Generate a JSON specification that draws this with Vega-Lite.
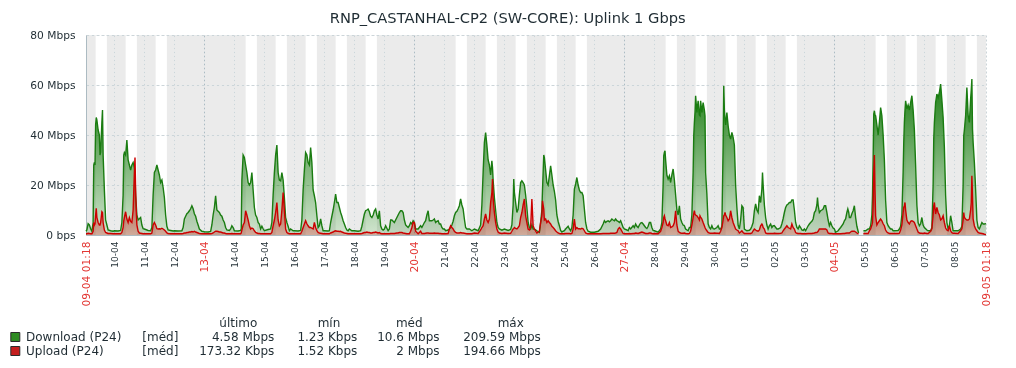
{
"$schema": "https://vega.github.io/schema/vega-lite/v6.json",
"padding": {"left": 8, "top": 11, "right": 5, "bottom": 5},
"background": "#FFFFFF",
"title": {"text": "RNP_CASTANHAL-CP2 (SW-CORE): Uplink 1 Gbps", "font": "DejaVu Sans", "fontSize": 14.67, "fontWeight": "normal", "color": "#1F2C33", "anchor": "middle", "frame": "bounds", "offset": 3, "dx": 8},
"config": {"view": {"stroke": null}, "font": "DejaVu Sans"},
"datasets": {
"nonwork": [
{"s":"2025-04-09 01:18","e":"2025-04-09 09:00"},
{"s":"2025-04-09 18:00","e":"2025-04-10 09:00"},
{"s":"2025-04-10 18:00","e":"2025-04-11 09:00"},
{"s":"2025-04-11 18:00","e":"2025-04-14 09:00"},
{"s":"2025-04-14 18:00","e":"2025-04-15 09:00"},
{"s":"2025-04-15 18:00","e":"2025-04-16 09:00"},
{"s":"2025-04-16 18:00","e":"2025-04-17 09:00"},
{"s":"2025-04-17 18:00","e":"2025-04-18 09:00"},
{"s":"2025-04-18 18:00","e":"2025-04-21 09:00"},
{"s":"2025-04-21 18:00","e":"2025-04-22 09:00"},
{"s":"2025-04-22 18:00","e":"2025-04-23 09:00"},
{"s":"2025-04-23 18:00","e":"2025-04-24 09:00"},
{"s":"2025-04-24 18:00","e":"2025-04-25 09:00"},
{"s":"2025-04-25 18:00","e":"2025-04-28 09:00"},
{"s":"2025-04-28 18:00","e":"2025-04-29 09:00"},
{"s":"2025-04-29 18:00","e":"2025-04-30 09:00"},
{"s":"2025-04-30 18:00","e":"2025-05-01 09:00"},
{"s":"2025-05-01 18:00","e":"2025-05-02 09:00"},
{"s":"2025-05-02 18:00","e":"2025-05-05 09:00"},
{"s":"2025-05-05 18:00","e":"2025-05-06 09:00"},
{"s":"2025-05-06 18:00","e":"2025-05-07 09:00"},
{"s":"2025-05-07 18:00","e":"2025-05-08 09:00"},
{"s":"2025-05-08 18:00","e":"2025-05-09 01:18"}
],
"traffic": [
{"t":"2025-04-09 01:18","d":1.5,"u":0.5},{"t":"2025-04-09 02:00","d":2,"u":0.5},{"t":"2025-04-09 03:00","d":4.5,"u":0.7},{"t":"2025-04-09 04:00","d":4,"u":0.6},{"t":"2025-04-09 05:00","d":2.5,"u":0.5},{"t":"2025-04-09 06:00","d":1.5,"u":0.5},{"t":"2025-04-09 07:00","d":5,"u":1.5},{"t":"2025-04-09 07:30","d":28,"u":5},{"t":"2025-04-09 08:00","d":29,"u":4},{"t":"2025-04-09 08:30","d":28,"u":4.5},{"t":"2025-04-09 09:00","d":44,"u":8},{"t":"2025-04-09 09:30","d":47,"u":10.7},{"t":"2025-04-09 10:00","d":46,"u":7},{"t":"2025-04-09 11:00","d":42,"u":5},{"t":"2025-04-09 12:00","d":40,"u":4},{"t":"2025-04-09 12:30","d":32,"u":4},{"t":"2025-04-09 13:00","d":33,"u":5},{"t":"2025-04-09 14:00","d":45,"u":9.3},{"t":"2025-04-09 14:30","d":50,"u":9},{"t":"2025-04-09 15:00","d":32,"u":5},{"t":"2025-04-09 16:00","d":18,"u":2},{"t":"2025-04-09 17:00","d":6,"u":1},{"t":"2025-04-09 18:00","d":4,"u":0.8},{"t":"2025-04-09 19:00","d":2,"u":0.6},{"t":"2025-04-09 21:00","d":1.7,"u":0.6},{"t":"2025-04-09 23:00","d":1.5,"u":0.5},
{"t":"2025-04-10 00:00","d":1.7,"u":0.5},{"t":"2025-04-10 03:00","d":1.6,"u":0.5},{"t":"2025-04-10 05:00","d":1.8,"u":0.5},{"t":"2025-04-10 06:00","d":5,"u":1},{"t":"2025-04-10 07:00","d":16,"u":3},{"t":"2025-04-10 07:30","d":32,"u":5.7},{"t":"2025-04-10 08:00","d":33,"u":7},{"t":"2025-04-10 09:00","d":32,"u":9.3},{"t":"2025-04-10 10:00","d":38,"u":6.4},{"t":"2025-04-10 11:00","d":30,"u":5},{"t":"2025-04-10 12:00","d":28,"u":7},{"t":"2025-04-10 13:00","d":26,"u":5.5},{"t":"2025-04-10 14:00","d":28,"u":5},{"t":"2025-04-10 15:00","d":29,"u":10},{"t":"2025-04-10 16:00","d":27,"u":25},{"t":"2025-04-10 16:30","d":25,"u":31},{"t":"2025-04-10 17:00","d":16,"u":18},{"t":"2025-04-10 17:30","d":12,"u":10},{"t":"2025-04-10 18:00","d":8,"u":4},{"t":"2025-04-10 19:00","d":6,"u":1.5},{"t":"2025-04-10 20:00","d":6.5,"u":0.8},{"t":"2025-04-10 21:00","d":7,"u":0.7},{"t":"2025-04-10 22:00","d":4,"u":0.6},{"t":"2025-04-10 23:00","d":2.5,"u":0.5},
{"t":"2025-04-11 00:00","d":2.4,"u":0.5},{"t":"2025-04-11 03:00","d":1.8,"u":0.5},{"t":"2025-04-11 05:00","d":1.7,"u":0.5},{"t":"2025-04-11 06:00","d":3,"u":0.8},{"t":"2025-04-11 07:00","d":16,"u":4},{"t":"2025-04-11 08:00","d":25,"u":5},{"t":"2025-04-11 09:00","d":26,"u":4},{"t":"2025-04-11 10:00","d":28,"u":2.5},{"t":"2025-04-11 11:00","d":26,"u":2.4},{"t":"2025-04-11 12:00","d":24,"u":2.5},{"t":"2025-04-11 13:00","d":21,"u":2.4},{"t":"2025-04-11 14:00","d":22,"u":2.7},{"t":"2025-04-11 15:00","d":19,"u":2.4},{"t":"2025-04-11 16:00","d":15,"u":2},{"t":"2025-04-11 17:00","d":8,"u":1.5},{"t":"2025-04-11 18:00","d":3.5,"u":0.8},{"t":"2025-04-11 19:00","d":2,"u":0.6},{"t":"2025-04-11 21:00","d":1.8,"u":0.5},{"t":"2025-04-11 23:00","d":1.6,"u":0.5},
{"t":"2025-04-12 00:00","d":1.7,"u":0.5},{"t":"2025-04-12 03:00","d":1.6,"u":0.5},{"t":"2025-04-12 06:00","d":1.7,"u":0.5},{"t":"2025-04-12 07:00","d":3,"u":0.6},{"t":"2025-04-12 08:00","d":6.4,"u":0.8},{"t":"2025-04-12 09:00","d":7.5,"u":0.8},{"t":"2025-04-12 10:00","d":8.5,"u":1},{"t":"2025-04-12 11:00","d":9,"u":1},{"t":"2025-04-12 12:00","d":9.7,"u":1.2},{"t":"2025-04-12 13:00","d":10.5,"u":1.2},{"t":"2025-04-12 14:00","d":11.7,"u":1.4},{"t":"2025-04-12 15:00","d":10.5,"u":1.2},{"t":"2025-04-12 16:00","d":8.5,"u":1.5},{"t":"2025-04-12 17:00","d":7.5,"u":1.2},{"t":"2025-04-12 18:00","d":5.5,"u":1},{"t":"2025-04-12 19:00","d":4,"u":0.8},{"t":"2025-04-12 20:00","d":2.4,"u":0.6},{"t":"2025-04-12 22:00","d":1.5,"u":0.5},
{"t":"2025-04-13 00:00","d":1.3,"u":0.5},{"t":"2025-04-13 03:00","d":1.2,"u":0.5},{"t":"2025-04-13 05:00","d":1.4,"u":0.5},{"t":"2025-04-13 06:00","d":4,"u":0.6},{"t":"2025-04-13 07:00","d":8,"u":0.8},{"t":"2025-04-13 08:00","d":11,"u":1.2},{"t":"2025-04-13 09:00","d":15.7,"u":1.5},{"t":"2025-04-13 10:00","d":10,"u":1.5},{"t":"2025-04-13 11:00","d":9.5,"u":1.4},{"t":"2025-04-13 12:00","d":9,"u":1.2},{"t":"2025-04-13 13:00","d":8,"u":1.2},{"t":"2025-04-13 14:00","d":7.5,"u":1},{"t":"2025-04-13 15:00","d":6,"u":0.8},{"t":"2025-04-13 16:00","d":5,"u":0.8},{"t":"2025-04-13 17:00","d":3,"u":0.6},{"t":"2025-04-13 18:00","d":2,"u":0.5},{"t":"2025-04-13 20:00","d":1.8,"u":0.5},{"t":"2025-04-13 21:00","d":2.4,"u":0.5},{"t":"2025-04-13 22:00","d":3.7,"u":0.6},{"t":"2025-04-13 23:00","d":3,"u":0.5},
{"t":"2025-04-14 00:00","d":1.7,"u":0.5},{"t":"2025-04-14 03:00","d":1.6,"u":0.5},{"t":"2025-04-14 05:00","d":1.8,"u":0.5},{"t":"2025-04-14 05:30","d":2.5,"u":0.8},{"t":"2025-04-14 06:00","d":22,"u":2},{"t":"2025-04-14 07:00","d":32,"u":4},{"t":"2025-04-14 08:00","d":31,"u":5},{"t":"2025-04-14 09:00","d":28,"u":9.7},{"t":"2025-04-14 10:00","d":25,"u":8},{"t":"2025-04-14 11:00","d":21,"u":6},{"t":"2025-04-14 12:00","d":20,"u":3.7},{"t":"2025-04-14 13:00","d":21,"u":2.4},{"t":"2025-04-14 14:00","d":25,"u":2.8},{"t":"2025-04-14 15:00","d":18,"u":2.5},{"t":"2025-04-14 16:00","d":11,"u":1.7},{"t":"2025-04-14 17:00","d":8,"u":1},{"t":"2025-04-14 18:00","d":7,"u":0.8},{"t":"2025-04-14 19:00","d":5,"u":0.6},{"t":"2025-04-14 20:00","d":4.4,"u":0.6},{"t":"2025-04-14 21:00","d":2.4,"u":0.5},{"t":"2025-04-14 22:00","d":3.5,"u":0.5},{"t":"2025-04-14 23:00","d":2.5,"u":0.5},
{"t":"2025-04-15 00:00","d":1.7,"u":0.5},{"t":"2025-04-15 03:00","d":2.2,"u":0.5},{"t":"2025-04-15 05:00","d":2.4,"u":0.5},{"t":"2025-04-15 06:00","d":5,"u":1},{"t":"2025-04-15 07:00","d":16,"u":3.7},{"t":"2025-04-15 08:00","d":25,"u":6},{"t":"2025-04-15 09:00","d":32,"u":9},{"t":"2025-04-15 10:00","d":36,"u":13},{"t":"2025-04-15 11:00","d":25,"u":6},{"t":"2025-04-15 12:00","d":22,"u":3.7},{"t":"2025-04-15 13:00","d":21.7,"u":4.4},{"t":"2025-04-15 14:00","d":25,"u":10},{"t":"2025-04-15 15:00","d":22,"u":17},{"t":"2025-04-15 16:00","d":15,"u":10},{"t":"2025-04-15 17:00","d":7,"u":2.4},{"t":"2025-04-15 18:00","d":5,"u":1},{"t":"2025-04-15 19:00","d":3.5,"u":0.7},{"t":"2025-04-15 20:00","d":1.7,"u":0.5},{"t":"2025-04-15 21:00","d":2.4,"u":0.5},{"t":"2025-04-15 23:00","d":1.7,"u":0.5},
{"t":"2025-04-16 00:00","d":1.7,"u":0.5},{"t":"2025-04-16 03:00","d":1.6,"u":0.5},{"t":"2025-04-16 05:00","d":1.8,"u":0.5},{"t":"2025-04-16 06:00","d":6,"u":1.5},{"t":"2025-04-16 07:00","d":18,"u":3},{"t":"2025-04-16 08:00","d":26,"u":4.4},{"t":"2025-04-16 09:00","d":33,"u":5.7},{"t":"2025-04-16 10:00","d":32,"u":4.5},{"t":"2025-04-16 11:00","d":29,"u":3.7},{"t":"2025-04-16 12:00","d":28,"u":3},{"t":"2025-04-16 13:00","d":35,"u":3},{"t":"2025-04-16 14:00","d":29,"u":2.7},{"t":"2025-04-16 15:00","d":18,"u":2.4},{"t":"2025-04-16 16:00","d":15.7,"u":5},{"t":"2025-04-16 17:00","d":13,"u":3},{"t":"2025-04-16 18:00","d":7.7,"u":1.7},{"t":"2025-04-16 19:00","d":3,"u":1},{"t":"2025-04-16 20:00","d":3.7,"u":0.8},{"t":"2025-04-16 21:00","d":6.4,"u":0.7},{"t":"2025-04-16 22:00","d":3.7,"u":0.6},{"t":"2025-04-16 23:00","d":1.7,"u":0.5},
{"t":"2025-04-17 00:00","d":1.7,"u":0.5},{"t":"2025-04-17 03:00","d":1.6,"u":0.5},{"t":"2025-04-17 04:00","d":1.7,"u":0.5},{"t":"2025-04-17 05:00","d":5,"u":0.8},{"t":"2025-04-17 06:00","d":7.5,"u":1},{"t":"2025-04-17 07:00","d":10,"u":1.2},{"t":"2025-04-17 08:00","d":13,"u":1.5},{"t":"2025-04-17 09:00","d":16.4,"u":1.7},{"t":"2025-04-17 10:00","d":13,"u":1.5},{"t":"2025-04-17 11:00","d":13,"u":1.5},{"t":"2025-04-17 12:00","d":11,"u":1.4},{"t":"2025-04-17 13:00","d":9,"u":1.5},{"t":"2025-04-17 14:00","d":7.5,"u":1.2},{"t":"2025-04-17 15:00","d":5.7,"u":1},{"t":"2025-04-17 16:00","d":4.4,"u":0.8},{"t":"2025-04-17 17:00","d":3,"u":0.7},{"t":"2025-04-17 18:00","d":2,"u":0.6},{"t":"2025-04-17 19:00","d":1.7,"u":0.5},{"t":"2025-04-17 20:00","d":2.4,"u":0.5},{"t":"2025-04-17 22:00","d":1.7,"u":0.5},
{"t":"2025-04-18 00:00","d":1.7,"u":0.5},{"t":"2025-04-18 03:00","d":1.5,"u":0.5},{"t":"2025-04-18 05:00","d":1.7,"u":0.5},{"t":"2025-04-18 06:00","d":3.5,"u":0.6},{"t":"2025-04-18 07:00","d":6,"u":0.8},{"t":"2025-04-18 08:00","d":8.4,"u":1},{"t":"2025-04-18 09:00","d":9.7,"u":1},{"t":"2025-04-18 10:00","d":10,"u":1.2},{"t":"2025-04-18 11:00","d":10.4,"u":1},{"t":"2025-04-18 12:00","d":9.3,"u":1},{"t":"2025-04-18 13:00","d":7.5,"u":0.8},{"t":"2025-04-18 14:00","d":7,"u":0.8},{"t":"2025-04-18 15:00","d":8,"u":1},{"t":"2025-04-18 16:00","d":9.7,"u":1},{"t":"2025-04-18 17:00","d":10.4,"u":1.2},{"t":"2025-04-18 18:00","d":8,"u":1},{"t":"2025-04-18 19:00","d":6.4,"u":0.8},{"t":"2025-04-18 20:00","d":9.7,"u":1},{"t":"2025-04-18 21:00","d":3.7,"u":0.6},{"t":"2025-04-18 22:00","d":2.4,"u":0.5},{"t":"2025-04-18 23:00","d":2,"u":0.5},
{"t":"2025-04-19 00:00","d":2.4,"u":0.5},{"t":"2025-04-19 01:00","d":3.7,"u":0.5},{"t":"2025-04-19 03:00","d":1.7,"u":0.5},{"t":"2025-04-19 04:00","d":2.4,"u":0.5},{"t":"2025-04-19 05:00","d":6,"u":0.6},{"t":"2025-04-19 06:00","d":6,"u":0.6},{"t":"2025-04-19 07:00","d":5.5,"u":0.6},{"t":"2025-04-19 08:00","d":5,"u":0.6},{"t":"2025-04-19 09:00","d":6,"u":0.7},{"t":"2025-04-19 10:00","d":7,"u":0.8},{"t":"2025-04-19 11:00","d":8,"u":0.8},{"t":"2025-04-19 12:00","d":9,"u":1},{"t":"2025-04-19 13:00","d":9.7,"u":1},{"t":"2025-04-19 14:00","d":9.7,"u":1},{"t":"2025-04-19 15:00","d":9,"u":0.8},{"t":"2025-04-19 16:00","d":6,"u":0.7},{"t":"2025-04-19 17:00","d":4,"u":0.6},{"t":"2025-04-19 18:00","d":3.5,"u":0.5},{"t":"2025-04-19 19:00","d":3,"u":0.5},{"t":"2025-04-19 20:00","d":3.7,"u":0.5},{"t":"2025-04-19 21:00","d":5,"u":1.5},{"t":"2025-04-19 22:00","d":4.4,"u":3},{"t":"2025-04-19 23:00","d":5.7,"u":5},
{"t":"2025-04-20 00:00","d":5,"u":5},{"t":"2025-04-20 01:00","d":2.4,"u":1.5},{"t":"2025-04-20 03:00","d":2.4,"u":0.5},{"t":"2025-04-20 05:00","d":3.7,"u":1.5},{"t":"2025-04-20 06:00","d":3,"u":0.6},{"t":"2025-04-20 08:00","d":5,"u":0.6},{"t":"2025-04-20 09:00","d":5.7,"u":0.7},{"t":"2025-04-20 10:00","d":8,"u":0.8},{"t":"2025-04-20 11:00","d":9.7,"u":0.8},{"t":"2025-04-20 12:00","d":5.7,"u":0.7},{"t":"2025-04-20 13:00","d":5.7,"u":0.7},{"t":"2025-04-20 14:00","d":5.7,"u":0.7},{"t":"2025-04-20 15:00","d":6,"u":0.7},{"t":"2025-04-20 16:00","d":6.4,"u":0.8},{"t":"2025-04-20 17:00","d":5,"u":0.7},{"t":"2025-04-20 18:00","d":5.5,"u":0.7},{"t":"2025-04-20 19:00","d":5.7,"u":0.7},{"t":"2025-04-20 20:00","d":4.4,"u":0.6},{"t":"2025-04-20 21:00","d":4.4,"u":0.6},{"t":"2025-04-20 22:00","d":3,"u":0.5},{"t":"2025-04-20 23:00","d":2.4,"u":0.5},
{"t":"2025-04-21 00:00","d":2.4,"u":0.5},{"t":"2025-04-21 01:00","d":1.7,"u":0.5},{"t":"2025-04-21 03:00","d":2,"u":0.6},{"t":"2025-04-21 04:00","d":2.4,"u":2.4},{"t":"2025-04-21 05:00","d":3,"u":3.7},{"t":"2025-04-21 06:00","d":4,"u":3},{"t":"2025-04-21 07:00","d":5.5,"u":2.4},{"t":"2025-04-21 08:00","d":7.7,"u":1.5},{"t":"2025-04-21 09:00","d":9,"u":1},{"t":"2025-04-21 10:00","d":9.5,"u":0.8},{"t":"2025-04-21 11:00","d":10.5,"u":0.8},{"t":"2025-04-21 12:00","d":11.7,"u":0.8},{"t":"2025-04-21 13:00","d":14.4,"u":1},{"t":"2025-04-21 14:00","d":12,"u":0.8},{"t":"2025-04-21 15:00","d":10.4,"u":0.8},{"t":"2025-04-21 16:00","d":6.4,"u":0.7},{"t":"2025-04-21 17:00","d":3,"u":0.6},{"t":"2025-04-21 18:00","d":2.4,"u":0.5},{"t":"2025-04-21 20:00","d":2.4,"u":0.5},{"t":"2025-04-21 22:00","d":1.7,"u":0.5},
{"t":"2025-04-22 00:00","d":2.4,"u":0.8},{"t":"2025-04-22 03:00","d":1.7,"u":0.6},{"t":"2025-04-22 05:00","d":4,"u":2},{"t":"2025-04-22 06:00","d":12,"u":3},{"t":"2025-04-22 07:00","d":25,"u":3.7},{"t":"2025-04-22 08:00","d":37,"u":6.4},{"t":"2025-04-22 09:00","d":41,"u":8.4},{"t":"2025-04-22 10:00","d":36,"u":6},{"t":"2025-04-22 11:00","d":30,"u":5},{"t":"2025-04-22 12:00","d":28,"u":6.4},{"t":"2025-04-22 13:00","d":24,"u":13},{"t":"2025-04-22 14:00","d":29.7,"u":17},{"t":"2025-04-22 14:30","d":27,"u":22.4},{"t":"2025-04-22 15:00","d":22,"u":15},{"t":"2025-04-22 16:00","d":15,"u":9},{"t":"2025-04-22 17:00","d":10,"u":5},{"t":"2025-04-22 18:00","d":5,"u":2.4},{"t":"2025-04-22 19:00","d":3,"u":1.2},{"t":"2025-04-22 20:00","d":2.4,"u":0.8},{"t":"2025-04-22 22:00","d":1.9,"u":0.6},
{"t":"2025-04-23 00:00","d":2.4,"u":0.8},{"t":"2025-04-23 03:00","d":1.8,"u":0.6},{"t":"2025-04-23 05:00","d":2.2,"u":0.7},{"t":"2025-04-23 06:00","d":4,"u":1.5},{"t":"2025-04-23 07:00","d":12,"u":2.4},{"t":"2025-04-23 07:30","d":22.4,"u":2.6},{"t":"2025-04-23 08:00","d":17,"u":3},{"t":"2025-04-23 09:00","d":13,"u":2.6},{"t":"2025-04-23 10:00","d":9,"u":2.4},{"t":"2025-04-23 11:00","d":10.4,"u":3},{"t":"2025-04-23 12:00","d":16,"u":3.7},{"t":"2025-04-23 13:00","d":21,"u":7},{"t":"2025-04-23 14:00","d":21.7,"u":9},{"t":"2025-04-23 15:00","d":21,"u":12},{"t":"2025-04-23 16:00","d":20,"u":14.4},{"t":"2025-04-23 17:00","d":16,"u":7.7},{"t":"2025-04-23 18:00","d":11,"u":5},{"t":"2025-04-23 19:00","d":5,"u":2.4},{"t":"2025-04-23 20:00","d":3,"u":2},{"t":"2025-04-23 21:00","d":2.4,"u":3},{"t":"2025-04-23 22:00","d":4,"u":14.4},{"t":"2025-04-23 23:00","d":2.4,"u":3.7},
{"t":"2025-04-24 00:00","d":2.4,"u":2.4},{"t":"2025-04-24 02:00","d":1.7,"u":0.8},{"t":"2025-04-24 04:00","d":1.1,"u":1.5},{"t":"2025-04-24 05:00","d":5,"u":5},{"t":"2025-04-24 06:00","d":10,"u":7.7},{"t":"2025-04-24 06:30","d":18,"u":13.7},{"t":"2025-04-24 07:00","d":25,"u":12},{"t":"2025-04-24 07:30","d":32,"u":10.4},{"t":"2025-04-24 08:00","d":31,"u":6},{"t":"2025-04-24 09:00","d":26,"u":6.4},{"t":"2025-04-24 10:00","d":21,"u":5},{"t":"2025-04-24 11:00","d":20,"u":5.7},{"t":"2025-04-24 12:00","d":23.7,"u":5},{"t":"2025-04-24 13:00","d":27.7,"u":4.4},{"t":"2025-04-24 14:00","d":24,"u":3.5},{"t":"2025-04-24 15:00","d":20,"u":3},{"t":"2025-04-24 16:00","d":17.5,"u":2.4},{"t":"2025-04-24 17:00","d":14,"u":1.7},{"t":"2025-04-24 18:00","d":8,"u":1.2},{"t":"2025-04-24 19:00","d":5.5,"u":0.8},{"t":"2025-04-24 20:00","d":3.7,"u":0.6},{"t":"2025-04-24 21:00","d":1.8,"u":0.5},{"t":"2025-04-24 22:00","d":1.2,"u":0.5},{"t":"2025-04-24 23:00","d":1.5,"u":0.5},
{"t":"2025-04-25 00:00","d":1.7,"u":0.5},{"t":"2025-04-25 01:00","d":2.4,"u":0.6},{"t":"2025-04-25 03:00","d":3.5,"u":0.6},{"t":"2025-04-25 04:00","d":2.4,"u":0.6},{"t":"2025-04-25 05:00","d":1.7,"u":0.5},{"t":"2025-04-25 06:00","d":3,"u":0.6},{"t":"2025-04-25 07:00","d":8,"u":2.4},{"t":"2025-04-25 08:00","d":18.4,"u":6.4},{"t":"2025-04-25 09:00","d":20.4,"u":2.4},{"t":"2025-04-25 10:00","d":23,"u":3},{"t":"2025-04-25 11:00","d":20,"u":2.5},{"t":"2025-04-25 12:00","d":18,"u":2.5},{"t":"2025-04-25 13:00","d":17,"u":2.4},{"t":"2025-04-25 14:00","d":17,"u":2.7},{"t":"2025-04-25 15:00","d":15.7,"u":2.5},{"t":"2025-04-25 16:00","d":10.4,"u":1.7},{"t":"2025-04-25 17:00","d":5,"u":0.8},{"t":"2025-04-25 18:00","d":2.5,"u":0.6},{"t":"2025-04-25 19:00","d":1.5,"u":0.5},{"t":"2025-04-25 21:00","d":1.1,"u":0.5},{"t":"2025-04-25 23:00","d":1.1,"u":0.5},
{"t":"2025-04-26 00:00","d":1.1,"u":0.5},{"t":"2025-04-26 03:00","d":1.5,"u":0.5},{"t":"2025-04-26 05:00","d":2.4,"u":0.5},{"t":"2025-04-26 07:00","d":4.4,"u":0.6},{"t":"2025-04-26 08:00","d":5.7,"u":0.6},{"t":"2025-04-26 09:00","d":5,"u":0.6},{"t":"2025-04-26 10:00","d":5.5,"u":0.6},{"t":"2025-04-26 11:00","d":5.7,"u":0.6},{"t":"2025-04-26 12:00","d":5.3,"u":0.6},{"t":"2025-04-26 13:00","d":5.7,"u":0.7},{"t":"2025-04-26 14:00","d":6.4,"u":0.7},{"t":"2025-04-26 15:00","d":6,"u":0.7},{"t":"2025-04-26 16:00","d":5.7,"u":0.7},{"t":"2025-04-26 17:00","d":6.4,"u":0.8},{"t":"2025-04-26 18:00","d":5.7,"u":1},{"t":"2025-04-26 19:00","d":5.5,"u":2.4},{"t":"2025-04-26 20:00","d":5,"u":3},{"t":"2025-04-26 21:00","d":5.7,"u":2.4},{"t":"2025-04-26 22:00","d":4.4,"u":1.5},{"t":"2025-04-26 23:00","d":3,"u":0.6},
{"t":"2025-04-27 00:00","d":2.4,"u":0.5},{"t":"2025-04-27 02:00","d":2,"u":0.5},{"t":"2025-04-27 03:00","d":1.7,"u":0.5},{"t":"2025-04-27 04:00","d":3,"u":0.6},{"t":"2025-04-27 05:00","d":2.4,"u":0.5},{"t":"2025-04-27 07:00","d":3.7,"u":0.6},{"t":"2025-04-27 08:00","d":3,"u":0.6},{"t":"2025-04-27 09:00","d":4.4,"u":0.8},{"t":"2025-04-27 10:00","d":3.5,"u":0.7},{"t":"2025-04-27 11:00","d":3,"u":0.6},{"t":"2025-04-27 12:00","d":4,"u":0.8},{"t":"2025-04-27 13:00","d":4.8,"u":1},{"t":"2025-04-27 14:00","d":5,"u":1.2},{"t":"2025-04-27 15:00","d":4.4,"u":1},{"t":"2025-04-27 16:00","d":3.7,"u":0.8},{"t":"2025-04-27 17:00","d":3,"u":0.6},{"t":"2025-04-27 18:00","d":2.6,"u":0.6},{"t":"2025-04-27 19:00","d":3.5,"u":0.6},{"t":"2025-04-27 20:00","d":5,"u":0.8},{"t":"2025-04-27 21:00","d":5,"u":0.8},{"t":"2025-04-27 22:00","d":3,"u":0.6},{"t":"2025-04-27 23:00","d":1.8,"u":0.5},
{"t":"2025-04-28 00:00","d":1.7,"u":0.6},{"t":"2025-04-28 03:00","d":1.1,"u":0.5},{"t":"2025-04-28 05:00","d":2.4,"u":1.5},{"t":"2025-04-28 06:00","d":5,"u":3},{"t":"2025-04-28 07:00","d":20,"u":5},{"t":"2025-04-28 07:30","d":31.7,"u":7},{"t":"2025-04-28 08:00","d":33,"u":7.7},{"t":"2025-04-28 08:30","d":33.7,"u":6.5},{"t":"2025-04-28 09:00","d":30,"u":5.7},{"t":"2025-04-28 10:00","d":24,"u":4},{"t":"2025-04-28 11:00","d":22.4,"u":3.7},{"t":"2025-04-28 12:00","d":23.7,"u":5},{"t":"2025-04-28 13:00","d":21,"u":3},{"t":"2025-04-28 14:00","d":24,"u":3.2},{"t":"2025-04-28 15:00","d":26.4,"u":3.7},{"t":"2025-04-28 16:00","d":22,"u":5},{"t":"2025-04-28 17:00","d":16,"u":9.7},{"t":"2025-04-28 18:00","d":10,"u":4},{"t":"2025-04-28 19:00","d":8,"u":1.5},{"t":"2025-04-28 20:00","d":11.7,"u":1},{"t":"2025-04-28 21:00","d":6.4,"u":0.8},{"t":"2025-04-28 22:00","d":5,"u":0.7},{"t":"2025-04-28 23:00","d":4,"u":0.7},
{"t":"2025-04-29 00:00","d":3.7,"u":0.8},{"t":"2025-04-29 01:00","d":2.4,"u":0.6},{"t":"2025-04-29 03:00","d":1.7,"u":0.5},{"t":"2025-04-29 04:00","d":3,"u":0.6},{"t":"2025-04-29 05:00","d":3,"u":1.5},{"t":"2025-04-29 06:00","d":8,"u":4},{"t":"2025-04-29 07:00","d":25,"u":7},{"t":"2025-04-29 07:30","d":39.7,"u":8.5},{"t":"2025-04-29 08:00","d":45,"u":9.7},{"t":"2025-04-29 08:30","d":49,"u":8.4},{"t":"2025-04-29 09:00","d":55.7,"u":8},{"t":"2025-04-29 10:00","d":49,"u":7.7},{"t":"2025-04-29 11:00","d":53.7,"u":7},{"t":"2025-04-29 12:00","d":48,"u":6},{"t":"2025-04-29 12:30","d":47.7,"u":7.7},{"t":"2025-04-29 13:00","d":53.7,"u":7.2},{"t":"2025-04-29 14:00","d":49,"u":6.4},{"t":"2025-04-29 15:00","d":53,"u":5},{"t":"2025-04-29 16:00","d":50,"u":3.7},{"t":"2025-04-29 16:30","d":47.7,"u":3},{"t":"2025-04-29 17:00","d":25,"u":2.4},{"t":"2025-04-29 18:00","d":16.4,"u":1.7},{"t":"2025-04-29 19:00","d":4.5,"u":1},{"t":"2025-04-29 20:00","d":3,"u":0.8},{"t":"2025-04-29 21:00","d":2.4,"u":0.7},{"t":"2025-04-29 22:00","d":3.7,"u":0.7},{"t":"2025-04-29 23:00","d":2.5,"u":0.7},
{"t":"2025-04-30 00:00","d":2.4,"u":0.8},{"t":"2025-04-30 02:00","d":3,"u":0.7},{"t":"2025-04-30 03:00","d":3.7,"u":0.7},{"t":"2025-04-30 04:00","d":2.4,"u":0.6},{"t":"2025-04-30 05:00","d":2.4,"u":1.5},{"t":"2025-04-30 06:00","d":3.5,"u":3},{"t":"2025-04-30 07:00","d":35.7,"u":6},{"t":"2025-04-30 07:30","d":59.7,"u":7.7},{"t":"2025-04-30 08:00","d":50,"u":8},{"t":"2025-04-30 08:30","d":46.4,"u":9},{"t":"2025-04-30 09:00","d":44,"u":8},{"t":"2025-04-30 10:00","d":49,"u":7},{"t":"2025-04-30 11:00","d":43.7,"u":5.7},{"t":"2025-04-30 12:00","d":40,"u":6.4},{"t":"2025-04-30 13:00","d":38.4,"u":9.7},{"t":"2025-04-30 14:00","d":41,"u":7},{"t":"2025-04-30 15:00","d":39,"u":5},{"t":"2025-04-30 16:00","d":36,"u":3.7},{"t":"2025-04-30 17:00","d":20,"u":2.4},{"t":"2025-04-30 18:00","d":11,"u":2},{"t":"2025-04-30 19:00","d":4,"u":1.7},{"t":"2025-04-30 20:00","d":2.4,"u":0.8},{"t":"2025-04-30 21:00","d":6,"u":1.2},{"t":"2025-04-30 22:00","d":11.7,"u":1.7},{"t":"2025-04-30 23:00","d":11,"u":1},
{"t":"2025-05-01 00:00","d":2.4,"u":0.6},{"t":"2025-05-01 02:00","d":1.7,"u":0.6},{"t":"2025-05-01 04:00","d":1.9,"u":0.6},{"t":"2025-05-01 05:00","d":2.4,"u":0.6},{"t":"2025-05-01 06:00","d":3.5,"u":0.8},{"t":"2025-05-01 07:00","d":5,"u":1.7},{"t":"2025-05-01 08:00","d":9.7,"u":2.4},{"t":"2025-05-01 09:00","d":12.4,"u":2},{"t":"2025-05-01 10:00","d":10,"u":1.7},{"t":"2025-05-01 11:00","d":9,"u":1.5},{"t":"2025-05-01 12:00","d":15.7,"u":2},{"t":"2025-05-01 13:00","d":13,"u":3.7},{"t":"2025-05-01 14:00","d":18.4,"u":4.4},{"t":"2025-05-01 14:30","d":25,"u":4},{"t":"2025-05-01 15:00","d":20,"u":3},{"t":"2025-05-01 16:00","d":12,"u":2.4},{"t":"2025-05-01 17:00","d":7,"u":0.8},{"t":"2025-05-01 18:00","d":4,"u":0.6},{"t":"2025-05-01 19:00","d":2.4,"u":0.6},{"t":"2025-05-01 20:00","d":3.7,"u":0.6},{"t":"2025-05-01 21:00","d":4.4,"u":0.6},{"t":"2025-05-01 22:00","d":3,"u":0.6},{"t":"2025-05-01 23:00","d":3.7,"u":0.6},
{"t":"2025-05-02 00:00","d":3.7,"u":0.7},{"t":"2025-05-02 02:00","d":2.4,"u":0.6},{"t":"2025-05-02 03:00","d":2.4,"u":0.6},{"t":"2025-05-02 05:00","d":3,"u":0.7},{"t":"2025-05-02 06:00","d":4.5,"u":0.8},{"t":"2025-05-02 07:00","d":6.5,"u":1.7},{"t":"2025-05-02 08:00","d":9,"u":2.4},{"t":"2025-05-02 09:00","d":11,"u":3},{"t":"2025-05-02 10:00","d":12,"u":3.7},{"t":"2025-05-02 11:00","d":12.4,"u":3},{"t":"2025-05-02 12:00","d":13,"u":2.7},{"t":"2025-05-02 13:00","d":13,"u":2.4},{"t":"2025-05-02 14:00","d":14,"u":4.4},{"t":"2025-05-02 15:00","d":14,"u":3},{"t":"2025-05-02 16:00","d":10,"u":2.4},{"t":"2025-05-02 17:00","d":5,"u":1},{"t":"2025-05-02 18:00","d":3,"u":0.7},{"t":"2025-05-02 19:00","d":2.4,"u":0.6},{"t":"2025-05-02 20:00","d":3.7,"u":0.6},{"t":"2025-05-02 21:00","d":3,"u":0.6},{"t":"2025-05-02 22:00","d":2,"u":0.5},{"t":"2025-05-02 23:00","d":1.8,"u":0.5},
{"t":"2025-05-03 00:00","d":2.4,"u":0.5},{"t":"2025-05-03 01:00","d":1.7,"u":0.5},{"t":"2025-05-03 03:00","d":3.7,"u":0.6},{"t":"2025-05-03 04:00","d":4.4,"u":0.6},{"t":"2025-05-03 05:00","d":5,"u":0.6},{"t":"2025-05-03 06:00","d":5.5,"u":0.6},{"t":"2025-05-03 07:00","d":6.4,"u":0.7},{"t":"2025-05-03 08:00","d":9,"u":0.8},{"t":"2025-05-03 09:00","d":9.7,"u":1},{"t":"2025-05-03 10:00","d":12,"u":1},{"t":"2025-05-03 10:30","d":15,"u":1.2},{"t":"2025-05-03 11:00","d":12,"u":1.5},{"t":"2025-05-03 12:00","d":9,"u":2.4},{"t":"2025-05-03 13:00","d":9.7,"u":2.4},{"t":"2025-05-03 14:00","d":10,"u":2.4},{"t":"2025-05-03 15:00","d":10.4,"u":2.4},{"t":"2025-05-03 16:00","d":11.7,"u":2.4},{"t":"2025-05-03 17:00","d":11.7,"u":2.4},{"t":"2025-05-03 18:00","d":9,"u":2},{"t":"2025-05-03 19:00","d":6,"u":0.8},{"t":"2025-05-03 20:00","d":3.7,"u":0.6},{"t":"2025-05-03 21:00","d":5,"u":0.6},{"t":"2025-05-03 22:00","d":3.7,"u":0.6},{"t":"2025-05-03 23:00","d":2.8,"u":0.5},
{"t":"2025-05-04 00:00","d":2.4,"u":0.5},{"t":"2025-05-04 01:00","d":1.1,"u":0.5},{"t":"2025-05-04 03:00","d":1.7,"u":0.5},{"t":"2025-05-04 04:00","d":2.4,"u":0.5},{"t":"2025-05-04 05:00","d":3,"u":0.5},{"t":"2025-05-04 07:00","d":4.4,"u":0.6},{"t":"2025-05-04 08:00","d":5.7,"u":0.6},{"t":"2025-05-04 09:00","d":6.4,"u":0.7},{"t":"2025-05-04 10:00","d":9,"u":0.8},{"t":"2025-05-04 10:45","d":10.4,"u":0.8},{"t":"2025-05-04 11:30","d":9,"u":0.8},{"t":"2025-05-04 12:00","d":7,"u":0.8},{"t":"2025-05-04 13:00","d":7,"u":1.2},{"t":"2025-05-04 14:00","d":8.5,"u":1.5},{"t":"2025-05-04 15:00","d":9.7,"u":1.5},{"t":"2025-05-04 16:00","d":11.7,"u":1.5},{"t":"2025-05-04 17:00","d":7,"u":1.2},{"t":"2025-05-04 18:00","d":3.5,"u":0.8},{"t":"2025-05-04 19:00","d":1.5,"u":0.5},{"t":"2025-05-04 19:20","d":0.8,"u":0.4},{"t":"2025-05-04 21:00","d":null,"u":null},{"t":"2025-05-04 23:15","d":1.7,"u":0.5},
{"t":"2025-05-05 00:00","d":1.7,"u":0.6},{"t":"2025-05-05 01:00","d":1.7,"u":0.6},{"t":"2025-05-05 03:00","d":2.4,"u":0.6},{"t":"2025-05-05 04:00","d":2.4,"u":1.7},{"t":"2025-05-05 05:00","d":3.7,"u":2.4},{"t":"2025-05-05 06:00","d":8,"u":4},{"t":"2025-05-05 06:30","d":15.7,"u":5},{"t":"2025-05-05 07:00","d":30,"u":12},{"t":"2025-05-05 07:30","d":48.4,"u":25},{"t":"2025-05-05 08:00","d":49.7,"u":32},{"t":"2025-05-05 08:30","d":48,"u":18},{"t":"2025-05-05 09:00","d":47.7,"u":7.7},{"t":"2025-05-05 10:00","d":44,"u":4},{"t":"2025-05-05 11:00","d":40,"u":5},{"t":"2025-05-05 12:00","d":45,"u":5.7},{"t":"2025-05-05 13:00","d":51,"u":6.4},{"t":"2025-05-05 14:00","d":47.7,"u":5.7},{"t":"2025-05-05 15:00","d":40,"u":4.5},{"t":"2025-05-05 16:00","d":30,"u":3.7},{"t":"2025-05-05 17:00","d":14,"u":2},{"t":"2025-05-05 18:00","d":5,"u":1.2},{"t":"2025-05-05 19:00","d":3.7,"u":0.8},{"t":"2025-05-05 20:00","d":3,"u":0.6},{"t":"2025-05-05 21:00","d":2.4,"u":0.6},{"t":"2025-05-05 22:00","d":2.4,"u":0.6},{"t":"2025-05-05 23:00","d":1.7,"u":0.6},
{"t":"2025-05-06 00:00","d":1.7,"u":0.6},{"t":"2025-05-06 03:00","d":1.8,"u":0.6},{"t":"2025-05-06 04:00","d":2.4,"u":0.7},{"t":"2025-05-06 05:00","d":3.5,"u":2},{"t":"2025-05-06 06:00","d":8,"u":4},{"t":"2025-05-06 07:00","d":25,"u":9},{"t":"2025-05-06 07:30","d":37,"u":11},{"t":"2025-05-06 08:00","d":45,"u":11.7},{"t":"2025-05-06 08:30","d":50,"u":13},{"t":"2025-05-06 09:00","d":53.7,"u":10},{"t":"2025-05-06 10:00","d":50.4,"u":6},{"t":"2025-05-06 11:00","d":52,"u":5},{"t":"2025-05-06 12:00","d":50,"u":4.4},{"t":"2025-05-06 13:00","d":53,"u":5.5},{"t":"2025-05-06 14:00","d":55.7,"u":5.7},{"t":"2025-05-06 15:00","d":50,"u":5.5},{"t":"2025-05-06 16:00","d":42,"u":5},{"t":"2025-05-06 17:00","d":28,"u":3.7},{"t":"2025-05-06 18:00","d":12,"u":2.4},{"t":"2025-05-06 19:00","d":5,"u":1.2},{"t":"2025-05-06 20:00","d":3.7,"u":0.8},{"t":"2025-05-06 21:00","d":4.5,"u":0.7},{"t":"2025-05-06 22:00","d":7,"u":0.7},{"t":"2025-05-06 23:00","d":4,"u":0.6},
{"t":"2025-05-07 00:00","d":3,"u":0.8},{"t":"2025-05-07 02:00","d":2,"u":0.6},{"t":"2025-05-07 03:00","d":1.7,"u":0.6},{"t":"2025-05-07 05:00","d":1.7,"u":1.5},{"t":"2025-05-07 06:00","d":3,"u":2.5},{"t":"2025-05-07 07:00","d":20,"u":8},{"t":"2025-05-07 07:30","d":38.4,"u":11.7},{"t":"2025-05-07 08:00","d":45,"u":13},{"t":"2025-05-07 09:00","d":53,"u":8.4},{"t":"2025-05-07 10:00","d":56.4,"u":11},{"t":"2025-05-07 11:00","d":55,"u":9},{"t":"2025-05-07 12:00","d":57,"u":8},{"t":"2025-05-07 13:00","d":60.4,"u":6},{"t":"2025-05-07 14:00","d":54,"u":6.5},{"t":"2025-05-07 15:00","d":47,"u":7.7},{"t":"2025-05-07 16:00","d":35,"u":5},{"t":"2025-05-07 17:00","d":16,"u":2.8},{"t":"2025-05-07 18:00","d":5,"u":2},{"t":"2025-05-07 19:00","d":2.4,"u":1.7},{"t":"2025-05-07 20:00","d":3.7,"u":3.7},{"t":"2025-05-07 21:00","d":7.7,"u":1.7},{"t":"2025-05-07 22:00","d":5,"u":0.9},{"t":"2025-05-07 23:00","d":1.7,"u":0.7},
{"t":"2025-05-08 00:00","d":1.7,"u":0.7},{"t":"2025-05-08 03:00","d":1.7,"u":0.6},{"t":"2025-05-08 05:00","d":2.4,"u":1.7},{"t":"2025-05-08 06:00","d":3.5,"u":2.5},{"t":"2025-05-08 07:00","d":20,"u":6},{"t":"2025-05-08 07:30","d":39.7,"u":9},{"t":"2025-05-08 08:00","d":42,"u":7},{"t":"2025-05-08 09:00","d":47.7,"u":6.4},{"t":"2025-05-08 10:00","d":59,"u":6},{"t":"2025-05-08 11:00","d":48,"u":6},{"t":"2025-05-08 12:00","d":45,"u":6.4},{"t":"2025-05-08 13:00","d":54.4,"u":10},{"t":"2025-05-08 13:30","d":58,"u":13},{"t":"2025-05-08 14:00","d":62.4,"u":23.7},{"t":"2025-05-08 14:30","d":42.4,"u":15.7},{"t":"2025-05-08 15:00","d":37,"u":6.4},{"t":"2025-05-08 16:00","d":29,"u":3.7},{"t":"2025-05-08 17:00","d":18.4,"u":2.4},{"t":"2025-05-08 18:00","d":6,"u":1.7},{"t":"2025-05-08 19:00","d":3,"u":1},{"t":"2025-05-08 20:00","d":2.4,"u":0.8},{"t":"2025-05-08 21:00","d":3.7,"u":0.7},{"t":"2025-05-08 22:00","d":5,"u":0.6},{"t":"2025-05-08 23:00","d":4.4,"u":0.5},
{"t":"2025-05-09 00:00","d":4.4,"u":0.3},{"t":"2025-05-09 01:18","d":4.58,"u":0.17}
],
"legend": [
{"r":0,"c":3,"t":"último"},{"r":0,"c":4,"t":"mín"},{"r":0,"c":5,"t":"méd"},{"r":0,"c":6,"t":"máx"},
{"r":1,"c":0,"t":"Download"},{"r":2,"c":0,"t":"Upload"},
{"r":1,"c":1,"t":"Download (P24)"},{"r":1,"c":2,"t":"[méd]"},{"r":1,"c":3,"t":"4.58 Mbps"},{"r":1,"c":4,"t":"1.23 Kbps"},{"r":1,"c":5,"t":"10.6 Mbps"},{"r":1,"c":6,"t":"209.59 Mbps"},
{"r":2,"c":1,"t":"Upload (P24)"},{"r":2,"c":2,"t":"[méd]"},{"r":2,"c":3,"t":"173.32 Kbps"},{"r":2,"c":4,"t":"1.52 Kbps"},{"r":2,"c":5,"t":"2 Mbps"},{"r":2,"c":6,"t":"194.66 Mbps"}
]
},
"spacing": 10,
"resolve": {"scale": {"x": "independent", "y": "independent", "fill": "independent"}},
"vconcat": [
{
"width": 900,
"height": 200,
"layer": [
{
"data": {"name": "nonwork"},
"mark": {"type": "rect", "color": "#EBEBEB", "blend": "darken"},
"encoding": {
"x": {"field": "s", "type": "temporal",
"scale": {"domain": [{"year":2025,"month":4,"date":9,"hours":1,"minutes":18},{"year":2025,"month":5,"date":9,"hours":1,"minutes":18}]},
"axis": {
"title": null,
"tickCount": 100,
"values": [{"year":2025,"month":4,"date":9,"hours":1,"minutes":18},{"year":2025,"month":4,"date":10},{"year":2025,"month":4,"date":11},{"year":2025,"month":4,"date":12},{"year":2025,"month":4,"date":13},{"year":2025,"month":4,"date":14},{"year":2025,"month":4,"date":15},{"year":2025,"month":4,"date":16},{"year":2025,"month":4,"date":17},{"year":2025,"month":4,"date":18},{"year":2025,"month":4,"date":19},{"year":2025,"month":4,"date":20},{"year":2025,"month":4,"date":21},{"year":2025,"month":4,"date":22},{"year":2025,"month":4,"date":23},{"year":2025,"month":4,"date":24},{"year":2025,"month":4,"date":25},{"year":2025,"month":4,"date":26},{"year":2025,"month":4,"date":27},{"year":2025,"month":4,"date":28},{"year":2025,"month":4,"date":29},{"year":2025,"month":4,"date":30},{"year":2025,"month":5,"date":1},{"year":2025,"month":5,"date":2},{"year":2025,"month":5,"date":3},{"year":2025,"month":5,"date":4},{"year":2025,"month":5,"date":5},{"year":2025,"month":5,"date":6},{"year":2025,"month":5,"date":7},{"year":2025,"month":5,"date":8},{"year":2025,"month":5,"date":9,"hours":1,"minutes":18}],
"labelExpr": "hours(datum.value) == 1 ? timeFormat(datum.value, '%d-%m %H:%M') : timeFormat(datum.value, '%d-%m')",
"labelAngle": 270,
"labelFont": "DejaVu Sans",
"labelFontSize": {"condition": {"test": "hours(datum.value) == 1 || day(datum.value) == 0", "value": 10.67}, "value": 9},
"labelColor": {"condition": {"test": "hours(datum.value) == 1 || day(datum.value) == 0", "value": "#E33734"}, "value": "#1F2C33"},
"labelOverlap": false, "labelBound": false, "labelFlush": false,
"labelPadding": 6,
"ticks": false,
"domainColor": "#ACBBC2",
"grid": true,
"gridColor": {"condition": {"test": "day(datum.value) == 0 && hours(datum.value) == 0", "value": "#ACBBC2"}, "value": "#CCD5D9"},
"gridDash": [2, 2]
}
},
"x2": {"field": "e"}
}
},
{
"data": {"name": "traffic"},
"mark": {"type": "area", "interpolate": "linear", "color": {"gradient": "linear", "x1": 0, "y1": 0, "x2": 0, "y2": 1, "stops": [{"offset": 0, "color": "rgba(26,124,17,1)"}, {"offset": 1, "color": "rgba(26,124,17,0.2)"}]}},
"encoding": {
"x": {"field": "t", "type": "temporal", "scale": {"domain": [{"year":2025,"month":4,"date":9,"hours":1,"minutes":18},{"year":2025,"month":5,"date":9,"hours":1,"minutes":18}]}},
"y": {"field": "d", "type": "quantitative", "scale": {"domain": [0, 80], "nice": false},
"axis": {"title": null, "values": [0, 20, 40, 60, 80], "labelExpr": "datum.value == 0 ? '0 bps' : datum.value + ' Mbps'", "labelFont": "DejaVu Sans", "labelFontSize": 10.67, "labelColor": "#1F2C33", "labelPadding": 11, "ticks": false, "domainColor": "#ACBBC2", "grid": true, "gridColor": "#CCD5D9", "gridDash": [3, 2]}}
}
},
{
"data": {"name": "traffic"},
"mark": {"type": "area", "interpolate": "linear", "color": {"gradient": "linear", "x1": 0, "y1": 0, "x2": 0, "y2": 1, "stops": [{"offset": 0, "color": "rgba(204,0,0,0.85)"}, {"offset": 1, "color": "rgba(204,0,0,0.25)"}]}},
"encoding": {
"x": {"field": "t", "type": "temporal"},
"y": {"field": "u", "type": "quantitative"}
}
},
{
"data": {"name": "traffic"},
"mark": {"type": "line", "interpolate": "linear", "color": "#1A7C11", "strokeWidth": 1.4},
"encoding": {
"x": {"field": "t", "type": "temporal"},
"y": {"field": "d", "type": "quantitative"}
}
},
{
"data": {"name": "traffic"},
"mark": {"type": "line", "interpolate": "linear", "color": "#CC0000", "strokeWidth": 1.4},
"encoding": {
"x": {"field": "t", "type": "temporal"},
"y": {"field": "u", "type": "quantitative"}
}
}
]
},
{
"width": 900,
"height": 28,
"data": {"name": "legend"},
"encoding": {
"x": {"field": "c", "type": "quantitative", "axis": null, "scale": {"domain": [0, 1, 2, 3, 4, 5, 6], "range": [-70.7, -60, 56.3, 188.3, 271.3, 353.6, 454.8], "nice": false, "zero": false}},
"y": {"field": "r", "type": "quantitative", "axis": null, "scale": {"domain": [0, 2], "range": [0, 28], "nice": false, "zero": false}}
},
"layer": [
{
"transform": [{"filter": "datum.c == 0"}],
"mark": {"type": "point", "shape": "square", "filled": true, "size": 81, "stroke": "#2B2B2B", "strokeWidth": 1, "opacity": 1},
"encoding": {"fill": {"field": "t", "type": "nominal", "scale": {"domain": ["Download", "Upload"], "range": ["#2E8B22", "#C41E1E"]}, "legend": null}}
},
{
"transform": [{"filter": "datum.r == 0"}],
"mark": {"type": "text", "align": "right", "baseline": "middle", "dx": -17, "font": "DejaVu Sans", "fontSize": 12, "color": "#1F2C33"},
"encoding": {"text": {"field": "t"}}
},
{
"transform": [{"filter": "datum.r > 0 && (datum.c == 1 || datum.c == 2)"}],
"mark": {"type": "text", "align": "left", "baseline": "middle", "font": "DejaVu Sans", "fontSize": 12, "color": "#1F2C33"},
"encoding": {"text": {"field": "t"}}
},
{
"transform": [{"filter": "datum.r > 0 && datum.c >= 3"}],
"mark": {"type": "text", "align": "right", "baseline": "middle", "font": "DejaVu Sans", "fontSize": 12, "color": "#1F2C33"},
"encoding": {"text": {"field": "t"}}
}
]
}
]
}
